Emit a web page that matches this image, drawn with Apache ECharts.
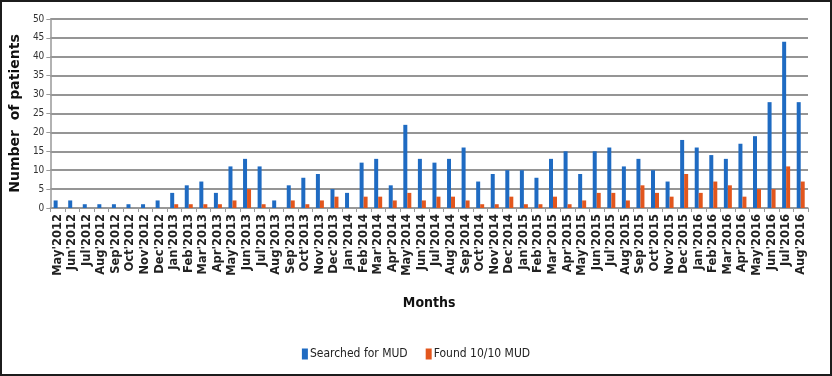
<!DOCTYPE html>
<html><head><meta charset="utf-8">
<script src="https://cdn.jsdelivr.net/npm/echarts@6/dist/echarts.min.js"></script>
<style>html,body{margin:0;padding:0;background:#fff}#c{width:832px;height:376px}</style>
</head><body><div id="c"></div>
<script>
const months = ["May'2012","Jun'2012","Jul'2012","Aug'2012","Sep'2012","Oct'2012","Nov'2012","Dec'2012",
"Jan'2013","Feb'2013","Mar'2013","Apr'2013","May'2013","Jun'2013","Jul'2013","Aug'2013","Sep'2013","Oct'2013","Nov'2013","Dec'2013",
"Jan'2014","Feb'2014","Mar'2014","Apr'2014","May'2014","Jun'2014","Jul'2014","Aug'2014","Sep'2014","Oct'2014","Nov'2014","Dec'2014",
"Jan'2015","Feb'2015","Mar'2015","Apr'2015","May'2015","Jun'2015","Jul'2015","Aug'2015","Sep'2015","Oct'2015","Nov'2015","Dec'2015",
"Jan'2016","Feb'2016","Mar'2016","Apr'2016","May'2016","Jun'2016","Jul'2016","Aug'2016"];
const searched = [2,2,1,1,1,1,1,2, 4,6,7,4,11,13,11,2,6,8,9,5, 4,12,13,6,22,13,12,13,16,7,9,10, 10,8,13,15,9,15,16,11,13,10,7,18, 16,14,13,17,19,28,44,28];
const found =    [0,0,0,0,0,0,0,0, 1,1,1,1,2,5,1,0,2,1,2,3, 0,3,3,2,4,2,3,3,2,1,1,3, 1,1,3,1,2,4,4,2,6,4,3,9, 4,7,6,3,5,5,11,7];
const yTicks = {min:0, max:50, interval:5};

const condensed = "'DejaVu Sans Condensed','Liberation Sans Narrow',sans-serif";
const chart = echarts.init(document.getElementById('c'), null, {renderer:'canvas'});
chart.setOption({
  animation:false,
  backgroundColor:'#fff',
  graphic:[{type:'rect', shape:{x:1,y:1,width:830,height:374}, style:{fill:'none', stroke:'#1c1c1c', lineWidth:2}, silent:true}],
  grid:{left:50, right:24, top:19, bottom:168, containLabel:false},
  legend:{
    data:['Searched for MUD','Found 10/10 MUD'],
    top:343, left:'center',
    itemWidth:6, itemHeight:11, itemGap:18,
    icon:'rect',
    textStyle:{fontFamily:condensed, fontSize:12, color:'#222', padding:[0,0,0,-3]}
  },
  xAxis:{
    type:'category', data:months, boundaryGap:true,
    name:'Months', nameLocation:'middle', nameGap:88,
    nameTextStyle:{fontFamily:condensed, fontWeight:'bold', fontSize:14, color:'#111'},
    axisLine:{lineStyle:{color:'#999', width:1.5}},
    axisTick:{show:true, interval:0, length:4, lineStyle:{color:'#999'}},
    axisLabel:{interval:0, rotate:90, margin:6, fontFamily:"'DejaVu Sans',sans-serif", fontWeight:'bold', fontSize:11.5, color:'#222'}
  },
  yAxis:{
    type:'value', min:yTicks.min, max:yTicks.max, interval:yTicks.interval,
    name:'Number  of patients', nameLocation:'middle', nameGap:27, nameRotate:90,
    nameTextStyle:{fontFamily:"'DejaVu Sans',sans-serif", fontWeight:'bold', fontSize:14, color:'#111'},
    axisLine:{show:true, lineStyle:{color:'#999', width:1.5}},
    axisTick:{show:true, length:4, lineStyle:{color:'#999'}},
    axisLabel:{margin:6, fontFamily:condensed, fontSize:10, color:'#333'},
    splitLine:{lineStyle:{color:'#959595', width:2}}
  },
  series:[
    {name:'Searched for MUD', type:'bar', data:searched, barWidth:4, barGap:'0%', itemStyle:{color:'#1f6bc2'}},
    {name:'Found 10/10 MUD', type:'bar', data:found, barWidth:4, barGap:'0%', itemStyle:{color:'#e2561d'}}
  ]
});
</script></body></html>
